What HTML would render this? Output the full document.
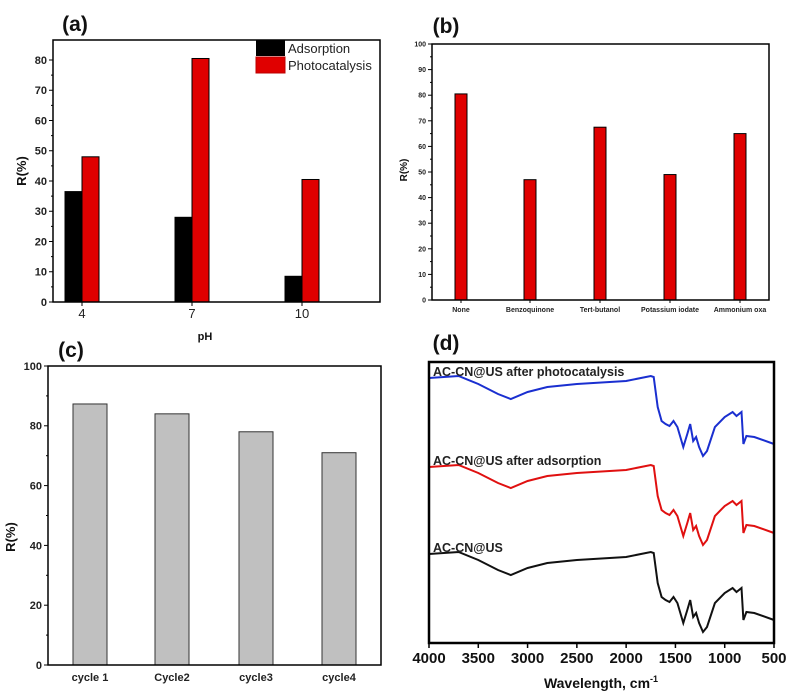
<!DOCTYPE html>
<html><head><meta charset="utf-8"><style>
body{margin:0;background:#fff;width:787px;height:695px;overflow:hidden}
svg{display:block;font-family:"Liberation Sans",Arial,sans-serif}
</style></head><body>
<svg id="fig" width="787" height="695"></svg>
<script>
// Panel (a)
const phCats = ["4","7","10"];
const adsorption = [36.5, 28, 8.5];
const photocatalysis = [48, 80.5, 40.5];
const aTicks = [0,10,20,30,40,50,60,70,80];
// Panel (b)
const scavCats = ["None","Benzoquinone","Tert-butanol","Potassium iodate","Ammonium oxa"];
const scavVals = [80.5, 47, 67.5, 49, 65];
const bTicks = [0,10,20,30,40,50,60,70,80,90,100];
// Panel (c)
const cycleCats = ["cycle 1","Cycle2","cycle3","cycle4"];
const cycleVals = [87.3, 84, 78, 71];
const cTicks = [0,20,40,60,80,100];
// Panel (d)
const wn = [4000,3700,3500,3300,3170,3000,2800,2500,2000,1750,1720,1680,1640,1600,1560,1520,1480,1420,1380,1350,1320,1290,1260,1220,1180,1100,1000,920,880,830,810,780,700,500];
const tBase = [76,78,70,60,55,62,67,70,73,78,77,47,33,30,28,33,27,7,20,30,13,17,7,-2,3,27,37,42,38,42,10,18,17,10];
const seriesNames = ["AC-CN@US after photocatalysis","AC-CN@US after adsorption","AC-CN@US"];
const seriesOffsets = [176, 87, 0];
const dTicks = [4000,3500,3000,2500,2000,1500,1000,500];

const NS="http://www.w3.org/2000/svg";
const svg=document.getElementById('fig');
function el(tag,attrs,parent,text){const e=document.createElementNS(NS,tag);for(const k in attrs)e.setAttribute(k,attrs[k]);if(text!==undefined)e.textContent=text;(parent||svg).appendChild(e);return e;}
function grp(name){const g=el('g',{});return g;}

function frame(g,L,R,T,B){el('rect',{x:L,y:T,width:R-L,height:B-T,fill:'none',stroke:'#000','stroke-width':1.5},g);}
function yAxis(g,L,ticks,sy,fs,minor){
  ticks.forEach((t,i)=>{const y=sy(t);el('line',{x1:L-4,x2:L,y1:y,y2:y,stroke:'#000'},g);
    const tx=el('text',{x:L-6,y:y+fs*0.35,'font-size':fs,'text-anchor':'end','font-weight':'bold',fill:'#222'},g,t);
    
    if(minor&&i<ticks.length-1){const ym=sy((t+ticks[i+1])/2);el('line',{x1:L-2,x2:L,y1:ym,y2:ym,stroke:'#000'},g);}});
}
function label(txt,x,y,fs,name,rot){const t=el('text',{x:x,y:y,'font-size':fs,'font-weight':'bold','text-anchor':'middle',fill:'#111'},svg,txt);
  if(rot)t.setAttribute('transform','rotate(-90 '+x+' '+y+')');return t;}

// ===== (a)
(function(){
  const g=grp('panel-a');svg.appendChild(g);
  const L=53,R=380,T=40,B=302;const sy=v=>B-v*3.025;
  const cx=[82,192,302];const w=17;
  phCats.forEach((c,i)=>{
    const b1=el('rect',{x:cx[i]-w,y:sy(adsorption[i]),width:w,height:B-sy(adsorption[i]),fill:'#000',stroke:'#000'},g);
    
    const b2=el('rect',{x:cx[i],y:sy(photocatalysis[i]),width:w,height:B-sy(photocatalysis[i]),fill:'#e00000',stroke:'#000'},g);
    
    const t=el('text',{x:cx[i],y:B+16,'font-size':13,'text-anchor':'middle',fill:'#222'},g,c);
    
    el('line',{x1:cx[i],x2:cx[i],y1:B,y2:B+4,stroke:'#000'},g);
  });
  frame(g,L,R,T,B);yAxis(g,L,aTicks,sy,11,true);
  const lg=el('g',{},g);
  el('rect',{x:256,y:40,width:29,height:16,fill:'#000'},lg);
  el('rect',{x:256,y:57,width:29,height:16,fill:'#e00000',stroke:'#b00'},lg);
  el('text',{x:288,y:53,'font-size':13,fill:'#222'},lg,'Adsorption');
  el('text',{x:288,y:70,'font-size':13,fill:'#222'},lg,'Photocatalysis');
  label('(a)',75,31,21,'panel-a-label');
  label('R(%)',26,171,13,'y-axis-title-a',true);
  label('pH',205,340,11,'x-axis-title-a');
})();

// ===== (b)
(function(){
  const g=grp('panel-b');svg.appendChild(g);
  const L=432,R=769,T=44,B=300;const sy=v=>B-v*2.56;
  const cx=[461,530,600,670,740];const w=12;
  scavCats.forEach((c,i)=>{
    const b=el('rect',{x:cx[i]-w/2,y:sy(scavVals[i]),width:w,height:B-sy(scavVals[i]),fill:'#e00000',stroke:'#000'},g);
    
    const t=el('text',{x:cx[i],y:B+12,'font-size':7,'text-anchor':'middle',fill:'#222','font-weight':'bold'},g,c);
    
    el('line',{x1:cx[i],x2:cx[i],y1:B,y2:B+3,stroke:'#000'},g);
  });
  frame(g,L,R,T,B);yAxis(g,L,bTicks,sy,7,true);
  label('(b)',446,33,21,'panel-b-label');
  label('R(%)',407,170,10,'y-axis-title-b',true);
})();

// ===== (c)
(function(){
  const g=grp('panel-c');svg.appendChild(g);
  const L=48,R=381,T=366,B=665;const sy=v=>B-v*2.99;
  const cx=[90,172,256,339];const w=34;
  cycleCats.forEach((c,i)=>{
    const b=el('rect',{x:cx[i]-w/2,y:sy(cycleVals[i]),width:w,height:B-sy(cycleVals[i]),fill:'#c0c0c0',stroke:'#333'},g);
    
    const t=el('text',{x:cx[i],y:B+16,'font-size':11,'text-anchor':'middle','font-weight':'bold',fill:'#222'},g,c);
    
  });
  frame(g,L,R,T,B);yAxis(g,L,cTicks,sy,11,true);
  label('(c)',71,357,21,'panel-c-label');
  label('R(%)',15,537,13,'y-axis-title-c',true);
})();

// ===== (d)
(function(){
  const g=grp('panel-d');svg.appendChild(g);
  const L=429,R=774,T=362,B=643;
  const sx=v=>L+(4000-v)/3500*(R-L);
  const sy=v=>330+(900-3*v)/3;
  const colors=['#1a2fd0','#e01010','#111'];
  seriesNames.forEach((n,s)=>{
    const pts=wn.map((w,i)=>sx(w).toFixed(1)+','+sy(tBase[i]+seriesOffsets[s]).toFixed(1)).join(' ');
    const p=el('polyline',{points:pts,fill:'none',stroke:colors[s],'stroke-width':2},g);
    
    const t=el('text',{x:433,y:sy(tBase[0]+seriesOffsets[s])-2,'font-size':12.5,'font-weight':'bold',fill:'#222'},g,n);
    
  });
  el('rect',{x:L,y:T,width:R-L,height:B-T,fill:'none',stroke:'#000','stroke-width':2.5},g);
  dTicks.forEach((t,i)=>{const x=sx(t);el('line',{x1:x,x2:x,y1:B,y2:B+5,stroke:'#000','stroke-width':1.5},g);
    const tx=el('text',{x:x,y:B+20,'font-size':15,'font-weight':'bold','text-anchor':'middle',fill:'#111'},g,t);
    });
  const xt=el('text',{x:601,y:688,'font-size':14,'font-weight':'bold','text-anchor':'middle',fill:'#111'},svg);
  
  xt.appendChild(document.createTextNode('Wavelength, cm'));
  el('tspan',{dy:-6,'font-size':9},xt,'-1');
  label('(d)',446,350,21,'panel-d-label');
})();
</script>
</body></html>
